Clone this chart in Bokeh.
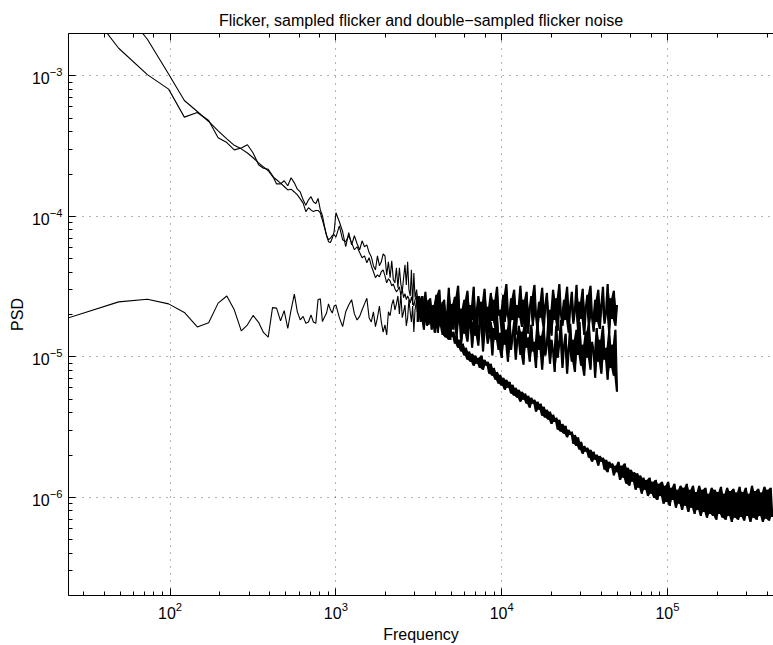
from bokeh.plotting import figure
from bokeh.models import LogAxis, Range1d, CustomJSTickFormatter
from bokeh.embed import file_html
from bokeh.resources import INLINE

TITLE = "Flicker, sampled flicker and double\u2212sampled flicker noise"
X_LABEL = "Frequency"
Y_LABEL = "PSD"
X_LIM = (24.414, 4.36e5)
Y_LIM = (2e-7, 2e-3)
PSD_UNIT = 1e-6  # all PSD lists below are in units of 1e-6

# ---- low-frequency part (Hz), shared by the three spectra
freq_lo = [24, 49, 73, 98, 122, 146, 171, 195, 220, 244, 269, 293, 317, 342, 366, 391, 415, 439, 464, 488,
           513, 537, 562, 586, 610, 635, 659, 684, 708, 732, 757, 781, 806, 830, 854, 879, 903, 928, 952, 977, 1001,
           1050, 1099, 1147, 1196, 1245, 1294, 1343, 1392, 1440, 1489, 1538, 1587, 1636, 1685, 1733, 1782, 1831,
           1880, 1929, 1978, 2026, 2075, 2124, 2173, 2222, 2271, 2319, 2368, 2417, 2466, 2515, 2563, 2612, 2661,
           2710, 2759, 2808, 2856, 2905, 2954, 3003]
flicker_lo = [6500, 3260, 1820, 1030, 667, 557, 473, 406, 356, 320, 302, 282, 261, 240, 225, 211, 192, 182, 172, 163,
              154, 156, 149, 142, 133, 124, 108, 115, 111, 108, 110, 110, 106, 94, 83, 73, 68, 70, 73, 74, 71,
              85.5, 68, 65.9, 72.7, 64.7, 57.8, 60.7, 55.2, 50.7, 52.3, 46.7, 50.7, 44.5, 40.3, 36.6, 38.3, 37.1,
              40.3, 41.6, 37.7, 33.6, 35.9, 34.7, 32, 33, 30.5, 29, 30, 31.5, 27.6, 30, 26.4, 28.1, 25.5, 27.1,
              25.8, 24.1, 26.7, 24.5, 23, 25.5]
sampled_lo = [4700, 1570, 1020, 804, 508, 548, 481, 362, 335, 297, 306, 323, 282, 233, 220, 216, 195, 170, 170, 179,
              165, 188, 173, 156, 149, 131, 120, 131, 138, 127, 123, 134, 111, 101, 85, 73, 66, 65, 70, 78, 106,
              91.4, 77.6, 60.7, 76.5, 62.6, 72.7, 63.8, 57.8, 66.9, 60.7, 62.6, 55.2, 51.6, 44.5, 41.6, 52.3, 44.5,
              47.4, 54, 52.3, 38.3, 47.4, 36.6, 48.2, 35.3, 33.6, 43, 31, 43, 33, 29, 36.6, 45.1, 32.5, 47.4,
              30, 27.1, 41.6, 23.4, 39.5, 26.4]
double_lo = [18.8, 24.6, 25.7, 23.8, 20.7, 16.3, 17.5, 24.1, 27.1, 21.6, 15.3, 16.9, 19.7, 17.6, 14.9, 13.8, 22.4, 22.2, 18, 21.3,
             15.9, 21.6, 27.9, 20.9, 18.3, 19.4, 17.3, 17.7, 19.9, 17.7, 17.3, 25.5, 25.9, 17.8, 19.2, 20.5, 23.8, 21.6, 20.5, 23, 23.4,
             19, 16.4, 20.9, 23.4, 25.5, 20.2, 18.3, 19.4, 21.6, 23.8, 26.1, 19, 17.7, 20.9, 16.4, 19, 23,
             17.7, 15, 16.9, 14.3, 20.9, 19.6, 23.4, 25.5, 21.6, 23.8, 27.1, 20.2, 28.2, 19, 20.9, 23.4, 16.6,
             19, 25.5, 20.9, 17.7, 23, 15, 21.6]

# ---- 3 kHz .. 50 kHz (Hz), shared by the three spectra
freq_hi = [3070, 3140, 3200, 3270, 3350, 3420, 3490, 3570, 3650, 3730,
           3810, 3890, 3980, 4060, 4150, 4240, 4340, 4430, 4530, 4630,
           4730, 4830, 4940, 5040, 5150, 5270, 5380, 5500, 5620, 5740,
           5870, 6000, 6130, 6260, 6400, 6540, 6680, 6830, 6980, 7130,
           7280, 7440, 7610, 7770, 7940, 8120, 8290, 8480, 8660, 8850,
           9040, 9240, 9440, 9650, 9860, 10080, 10300, 10520, 10750, 10990,
           11230, 11470, 11720, 11980, 12240, 12510, 12780, 13060, 13350, 13640,
           13940, 14240, 14550, 14870, 15200, 15530, 15870, 16220, 16570, 16930,
           17300, 17680, 18070, 18460, 18870, 19280, 19700, 20130, 20570, 21020,
           21480, 21950, 22430, 22920, 23420, 23930, 24460, 24990, 25540, 26100,
           26670, 27250, 27850, 28460, 29080, 29710, 30360, 31030, 31710, 32400,
           33110, 33830, 34570, 35330, 36100, 36890, 37700, 38520, 39360, 40220,
           41100, 42000, 42920, 43860, 44820, 45800, 46800, 47820, 48870, 49940]
flicker_hi = [27.1, 22.3, 25.5, 20.9, 23.8, 19.9, 23.0, 18.3, 21.6, 19.0,
              20.9, 17.2, 20.2, 16.0, 19.0, 16.6, 18.3, 14.3, 17.2, 13.7,
              16.0, 13.2, 15.6, 13.9, 15.1, 12.4, 14.1, 11.6, 13.2, 10.9,
              12.4, 10.2, 11.6, 9.52, 10.9, 9.21, 10.5, 8.63, 10.2, 8.91,
              9.84, 8.33, 10.2, 8.08, 9.52, 8.63, 9.21, 7.58, 8.91, 7.32,
              8.33, 6.86, 7.81, 6.43, 7.45, 6.22, 7.08, 5.82, 6.86, 6.02,
              6.64, 5.47, 6.32, 5.28, 6.02, 5.11, 5.82, 4.79, 5.63, 4.94,
              5.47, 4.64, 5.28, 4.34, 5.11, 4.64, 4.94, 4.07, 4.79, 4.20,
              4.64, 3.81, 4.41, 3.69, 4.20, 3.56, 4.07, 3.33, 3.87, 3.44,
              3.69, 3.02, 3.56, 2.93, 3.33, 2.83, 3.23, 2.67, 3.02, 2.78,
              2.93, 2.40, 2.78, 2.32, 2.67, 2.18, 2.48, 2.04, 2.32, 2.11,
              2.25, 1.91, 2.18, 1.79, 2.11, 1.85, 2.01, 1.68, 1.97, 1.79,
              1.91, 1.57, 1.85, 1.51, 1.79, 1.62, 1.74, 1.43, 1.68, 1.51]
sampled_hi = [30.0, 20.9, 25.5, 17.7, 27.1, 19.0, 23.0, 16.6, 25.5, 19.9,
              15.6, 23.4, 18.3, 26.1, 14.8, 20.9, 17.2, 24.6, 14.1, 19.6,
              16.0, 23.0, 13.2, 20.2, 17.7, 25.5, 13.7, 19.0, 21.6, 12.4,
              18.3, 14.6, 23.4, 12.8, 16.9, 20.9, 11.6, 17.7, 14.1, 22.3,
              12.0, 16.6, 19.0, 10.9, 15.6, 20.9, 12.4, 14.3, 17.7, 10.2,
              16.0, 13.2, 19.9, 11.2, 14.8, 9.8, 18.3, 12.2, 15.6, 9.21,
              19.0, 11.2, 14.1, 17.7, 9.52, 13.2, 16.6, 10.3, 15.1, 8.77,
              18.3, 11.6, 13.7, 9.21, 16.9, 10.9, 12.8, 8.33, 17.7, 11.2,
              14.1, 8.08, 16.0, 10.2, 12.4, 19.0, 8.91, 13.2, 10.9, 7.81,
              16.6, 9.84, 12.8, 18.3, 8.33, 12.0, 14.6, 7.58, 11.2, 17.2,
              9.21, 13.2, 7.81, 15.6, 10.3, 17.7, 8.63, 12.2, 7.32, 15.1,
              9.84, 17.2, 8.08, 12.8, 10.9, 7.08, 16.0, 9.21, 13.2, 7.58,
              16.6, 9.52, 11.6, 6.86, 15.1, 8.33, 12.2, 7.32, 15.6, 5.63]
double_hi = [25.5, 17.7, 27.1, 19.0, 23.4, 15.6, 29.0, 19.9, 16.9, 26.1,
             18.3, 22.3, 14.8, 27.6, 19.6, 30.0, 16.3, 21.6, 25.5, 14.3,
             20.9, 31.0, 17.7, 23.8, 15.6, 26.7, 19.0, 32.0, 16.9, 22.0,
             15.1, 25.5, 19.9, 29.5, 16.0, 23.4, 18.3, 31.5, 14.3, 21.6,
             27.1, 17.2, 24.6, 15.6, 30.5, 19.0, 22.7, 14.6, 28.5, 18.0,
             25.5, 16.0, 31.5, 19.6, 21.6, 15.1, 27.6, 17.7, 33.0, 19.9,
             15.6, 26.1, 18.3, 30.0, 14.3, 23.4, 19.0, 32.0, 16.3, 25.5,
             17.4, 29.0, 14.6, 22.0, 27.1, 16.6, 32.5, 19.6, 15.3, 24.6,
             19.0, 31.0, 15.8, 23.4, 28.5, 16.9, 21.6, 14.1, 30.0, 18.3,
             26.1, 15.3, 33.0, 20.2, 16.6, 25.5, 18.3, 31.5, 14.8, 23.0,
             29.0, 17.2, 21.6, 32.5, 15.6, 24.6, 18.6, 30.5, 14.3, 22.3,
             27.6, 16.3, 32.0, 19.0, 15.1, 25.5, 17.7, 30.0, 15.8, 23.4,
             31.5, 17.2, 20.9, 33.0, 14.8, 26.1, 18.6, 29.5, 16.6, 23.4]

# ---- 50 kHz .. 430 kHz (Hz), continuous flicker only
freq_tail = [51030, 52140, 53280, 54440, 55630, 56840, 58080, 59350, 60640, 61960,
             63310, 64690, 66100, 67540, 69010, 70520, 72060, 73630, 75230, 76870,
             78550, 80260, 82010, 83800, 85620, 87490, 89400, 91350, 93340, 95370,
             97450, 99570, 101700, 104000, 106200, 108500, 110900, 113300, 115800, 118300,
             120900, 123500, 126200, 129000, 131800, 134700, 137600, 140600, 143700, 146800,
             150000, 153300, 156600, 160000, 163500, 167100, 170700, 174400, 178200, 182100,
             186100, 190200, 194300, 198500, 202800, 207300, 211800, 216400, 221100, 225900,
             230800, 235900, 241000, 246300, 251600, 257100, 262700, 268500, 274300, 280300,
             286400, 292600, 299000, 305500, 312200, 319000, 326000, 333100, 340300, 347700,
             355300, 363100, 371000, 379100, 387300, 395800, 404400, 413200, 422200, 431400]
flicker_tail = [1.79, 1.33, 1.68, 1.38, 1.74, 1.25, 1.62, 1.21, 1.57, 1.29,
                1.51, 1.13, 1.48, 1.17, 1.43, 1.06, 1.38, 1.13, 1.33, 1.02,
                1.38, 1.06, 1.29, 0.99, 1.33, 0.958, 1.25, 1.02, 1.29, 0.898,
                1.21, 0.927, 1.29, 0.869, 1.17, 0.958, 1.25, 0.841, 1.13, 0.898,
                1.21, 0.813, 1.17, 0.869, 1.25, 0.787, 1.13, 0.841, 1.21, 0.762,
                1.09, 0.813, 1.21, 0.737, 1.13, 0.787, 1.17, 0.714, 1.06, 0.762,
                1.17, 0.737, 1.13, 0.691, 1.09, 0.762, 1.19, 0.714, 1.06, 0.691,
                1.17, 0.737, 1.11, 0.668, 1.15, 0.714, 1.08, 0.691, 1.19, 0.725,
                1.09, 0.680, 1.17, 0.737, 1.06, 0.668, 1.21, 0.714, 1.11, 0.691,
                1.15, 0.737, 1.08, 0.668, 1.19, 0.703, 1.13, 0.680, 1.17, 0.725]

FONT = "Liberation Sans"

p = figure(width=773, height=645, x_axis_type="log", y_axis_type="log",
           x_range=Range1d(*X_LIM), y_range=Range1d(*Y_LIM),
           output_backend="svg", toolbar_location=None,
           min_border_left=68, min_border_right=0, min_border_top=33, min_border_bottom=48)
p.background_fill_color = "white"
p.border_fill_color = "white"
p.outline_line_color = None

p.title.text = TITLE
p.title.align = "center"
p.title.offset = 12
p.title.text_font = FONT
p.title.text_font_size = "16px"
p.title.text_font_style = "normal"
p.title.text_color = "black"

def to_psd(vals):
    return [v * PSD_UNIT for v in vals]

def dense_span(vals):
    """Vertical span swept by the densely packed trace between each
    sample and its right-hand neighbour."""
    lo, hi = [], []
    n = len(vals)
    for i in range(n):
        a, b = vals[i], vals[min(n - 1, i + 1)]
        lo.append(min(a, b))
        hi.append(max(a, b))
    return to_psd(lo), to_psd(hi)

# sparse low-frequency parts (thin line)
p.line(freq_lo + freq_hi[:1], to_psd(flicker_lo + flicker_hi[:1]), line_color="black", line_width=1.1)
p.line(freq_lo + freq_hi[:1], to_psd(sampled_lo + sampled_hi[:1]), line_color="black", line_width=1.1)
p.line(freq_lo + freq_hi[:1], to_psd(double_lo + double_hi[:1]), line_color="black", line_width=1.1)

# dense noisy high-frequency parts: filled span + jagged trace
dense = [
    (freq_hi + freq_tail, flicker_hi + flicker_tail),
    (freq_hi, sampled_hi),
    (freq_hi, double_hi),
]
for fx, vy in dense:
    lo, hi = dense_span(vy)
    p.varea(x=fx, y1=lo, y2=hi, fill_color="black")
    p.line(fx, to_psd(vy), line_color="black", line_width=1.2)

for ax in (p.xaxis[0], p.yaxis[0]):
    ax.axis_line_color = "black"
    ax.major_tick_line_color = "black"
    ax.minor_tick_line_color = "black"
    ax.major_tick_in = 7
    ax.major_tick_out = 0
    ax.minor_tick_in = 4
    ax.minor_tick_out = 0
    ax.major_label_text_font = FONT
    ax.major_label_text_font_size = "16px"
    ax.major_label_text_color = "black"
    ax.axis_label_text_font = FONT
    ax.axis_label_text_font_size = "16px"
    ax.axis_label_text_font_style = "normal"
    ax.axis_label_text_color = "black"
    ax.major_label_standoff = 6

p.xaxis.axis_label = X_LABEL
p.yaxis.axis_label = Y_LABEL
p.xaxis.axis_label_standoff = 4
p.yaxis.axis_label_standoff = 3

top = LogAxis(formatter=CustomJSTickFormatter(code="return ''"), major_label_standoff=0,
              axis_line_color="black", major_tick_line_color="black", minor_tick_line_color="black",
              major_tick_in=7, major_tick_out=0, minor_tick_in=4, minor_tick_out=0)
p.add_layout(top, "above")

for g in (p.xgrid[0], p.ygrid[0]):
    g.grid_line_color = "black"
    g.grid_line_alpha = 0.6
    g.grid_line_dash = "1 6"
    g.grid_line_width = 1

open("out.html", "w").write(file_html(p, INLINE))
